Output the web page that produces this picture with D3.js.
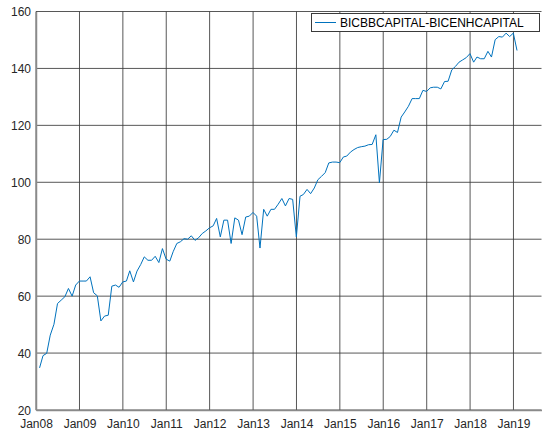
<!DOCTYPE html>
<html>
<head>
<meta charset="utf-8">
<script src="https://cdn.jsdelivr.net/npm/d3@7"></script>
<style>
  html, body { margin: 0; padding: 0; background: #fff; }
  svg { display: block; }
  text { font-family: "Liberation Sans", Arial, Helvetica, sans-serif; }
</style>
</head>
<body>
<svg id="chart" width="550" height="434"></svg>
<script>
// ---- Data (month-end values, Jan 2008 .. Jan 2019) ----
const seriesName = "BICBBCAPITAL-BICENHCAPITAL";
const startYear = 2008;
const values = [
  34.8, 39.1, 39.9, 46.3, 50.1, 57.4, 58.6, 59.8, 62.7, 60.0, 63.9, 65.3,
  65.3, 65.3, 66.8, 61.2, 60.1, 51.3, 53.0, 53.3, 63.5, 63.9, 63.1, 65.0,
  65.3, 68.9, 65.0, 68.8, 71.1, 73.8, 72.6, 72.6, 74.0, 71.8, 76.7, 73.0,
  72.3, 75.6, 78.5, 79.1, 80.2, 80.0, 81.2, 79.6, 80.5, 82.0, 82.9, 84.0,
  84.7, 87.3, 80.8, 86.7, 86.7, 78.5, 87.5, 86.7, 81.6, 87.8, 88.1, 89.4,
  88.1, 76.9, 90.5, 88.1, 90.5, 90.5, 92.3, 94.3, 91.7, 94.3, 94.0, 80.8,
  95.1, 95.7, 97.5, 96.0, 98.0, 100.9, 102.1, 103.4, 106.8, 107.1, 107.1, 106.9,
  108.9, 109.2, 110.6, 111.5, 112.2, 112.5, 112.7, 113.2, 113.3, 116.7, 99.8, 115.0,
  115.1, 116.1, 118.3, 117.5, 122.9, 124.7, 126.7, 129.4, 129.4, 129.4, 132.3, 131.9,
  133.2, 133.4, 133.4, 132.8, 135.4, 135.5, 139.5, 140.7, 142.2, 143.0, 143.8, 145.2,
  142.2, 144.0, 143.4, 143.4, 146.0, 144.0, 150.1, 151.2, 151.0, 152.4, 151.2, 152.4,
  146.3
];
const xTickYears = [2008, 2009, 2010, 2011, 2012, 2013, 2014, 2015, 2016, 2017, 2018, 2019];
const xTickLabels = ["Jan08","Jan09","Jan10","Jan11","Jan12","Jan13","Jan14","Jan15","Jan16","Jan17","Jan18","Jan19"];
const yTicks = [20, 40, 60, 80, 100, 120, 140, 160];

// ---- Layout ----
const plotLeft = 36, plotRight = 541.5, plotTop = 11.5, plotBottom = 410;
const svg = d3.select("#chart");

const data = values.map((v, i) => ({ date: new Date(startYear, i + 1, 0), value: v }));

const x = d3.scaleTime()
  .domain([new Date(2008, 0, 1), new Date(2019, 7, 25)])
  .range([plotLeft, plotRight]);
const y = d3.scaleLinear().domain([20, 160]).range([plotBottom, plotTop]);

const xTickDates = xTickYears.map(yr => new Date(yr, 0, 1));

// Grid
const grid = svg.append("g").attr("stroke", "#3a3a3a").attr("stroke-width", 1).attr("fill", "none");
xTickDates.forEach(d => {
  grid.append("line")
    .attr("x1", x(d)).attr("x2", x(d))
    .attr("y1", plotTop).attr("y2", plotBottom).attr("stroke-opacity", 0.85);
});
yTicks.forEach(t => {
  grid.append("line")
    .attr("x1", plotLeft).attr("x2", plotRight)
    .attr("y1", y(t)).attr("y2", y(t)).attr("stroke-opacity", 0.85);
});

// Axes
const xAxis = d3.axisBottom(x)
  .tickValues(xTickDates)
  .tickFormat((d, i) => xTickLabels[i])
  .tickSize(0).tickPadding(9.5);
const yAxis = d3.axisLeft(y)
  .tickValues(yTicks)
  .tickSize(0).tickPadding(5);

const gx = svg.append("g").attr("transform", `translate(0,${plotBottom})`).call(xAxis);
const gy = svg.append("g").attr("transform", `translate(${plotLeft},0)`).call(yAxis);
[gx, gy].forEach(g => {
  g.select(".domain").attr("stroke", "#8a8a8a").attr("stroke-width", 1.5);
  g.selectAll("text").attr("font-size", 12).attr("fill", "#262626")
    .style("font-family", '"Liberation Sans", Arial, sans-serif');
});
gy.selectAll("text").attr("dy", "0.35em");

// Line
const line = d3.line().x(d => x(d.date)).y(d => y(d.value));
svg.append("path")
  .datum(data)
  .attr("fill", "none")
  .attr("stroke", "#0072BD")
  .attr("stroke-width", 1)
  .attr("stroke-linejoin", "round")
  .attr("d", line);

// Legend
const lg = svg.append("g");
lg.append("rect")
  .attr("x", 311.5).attr("y", 13.5).attr("width", 228).attr("height", 18)
  .attr("fill", "#fff").attr("stroke", "#3a3a3a").attr("stroke-width", 1);
lg.append("line")
  .attr("x1", 315).attr("x2", 336).attr("y1", 22.5).attr("y2", 22.5)
  .attr("stroke", "#0072BD").attr("stroke-width", 1);
lg.append("text")
  .attr("x", 340).attr("y", 22.5).attr("dy", "0.35em")
  .attr("font-size", 12).attr("fill", "#000")
  .text(seriesName);
</script>
</body>
</html>
